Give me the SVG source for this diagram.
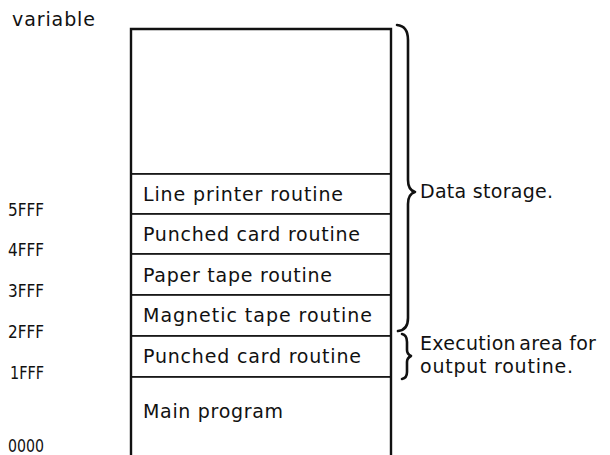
<svg xmlns="http://www.w3.org/2000/svg" width="610" height="455" viewBox="0 0 610 455">
<style>
text{font-family:"DejaVu Sans","Liberation Sans",Arial,sans-serif;font-size:19px;fill:#111}
.hex{font-size:18px}
.row{fill:#fff;stroke:#111;stroke-width:1.6}
.frame{fill:none;stroke:#111;stroke-width:2.4}
.brace{fill:none;stroke:#111;stroke-width:2.6;stroke-linecap:round;stroke-linejoin:round}
</style>
<rect width="610" height="455" fill="#fff"/>
<g id="labels">
<text x="12" y="26" textLength="83">variable</text>
<text class="hex" x="8" y="216" textLength="36" lengthAdjust="spacingAndGlyphs">5FFF</text>
<text class="hex" x="8" y="256" textLength="36" lengthAdjust="spacingAndGlyphs">4FFF</text>
<text class="hex" x="8" y="297" textLength="36" lengthAdjust="spacingAndGlyphs">3FFF</text>
<text class="hex" x="8" y="338" textLength="36" lengthAdjust="spacingAndGlyphs">2FFF</text>
<text class="hex" x="10" y="379" textLength="34" lengthAdjust="spacingAndGlyphs">1FFF</text>
<text class="hex" x="8" y="452" textLength="36" lengthAdjust="spacingAndGlyphs">0000</text>
</g>
<g id="variable-area"><rect class="row" x="131" y="29" width="260" height="145"/></g>
<g id="line-printer"><rect class="row" x="131" y="174" width="260" height="40"/><text x="143" y="201" textLength="200">Line printer routine</text></g>
<g id="punched-card-1"><rect class="row" x="131" y="214" width="260" height="40"/><text x="143" y="241" textLength="217">Punched card routine</text></g>
<g id="paper-tape"><rect class="row" x="131" y="254" width="260" height="41"/><text x="143" y="282" textLength="189">Paper tape routine</text></g>
<g id="magnetic-tape"><rect class="row" x="131" y="295" width="260" height="41"/><text x="143" y="322" textLength="229">Magnetic tape routine</text></g>
<g id="punched-card-2"><rect class="row" x="131" y="336" width="260" height="41"/><text x="143" y="363" textLength="218">Punched card routine</text></g>
<g id="main-program"><rect class="row" x="131" y="377" width="260" height="100"/><text x="143" y="418" textLength="140">Main program</text></g>
<path class="frame" d="M131,458 V29 H391 V458"/>
<g id="connectors">
<path class="brace" d="M397,25 Q408,26 408,40 V180 Q408,190 415,192 Q408,194 408,204 V318 Q408,330 398,331"/>
<path class="brace" d="M402,334 Q407,335 407,342 V350 Q407,354 411,356 Q407,358 407,362 V372 Q407,378 402,379"/>
</g>
<g id="annotations">
<text x="420" y="198" textLength="133">Data storage.</text>
<text x="420" y="350" letter-spacing="0.3">Execution<tspan dx="-3"> area for</tspan></text>
<text x="420" y="373" textLength="153">output routine.</text>
</g>
</svg>
